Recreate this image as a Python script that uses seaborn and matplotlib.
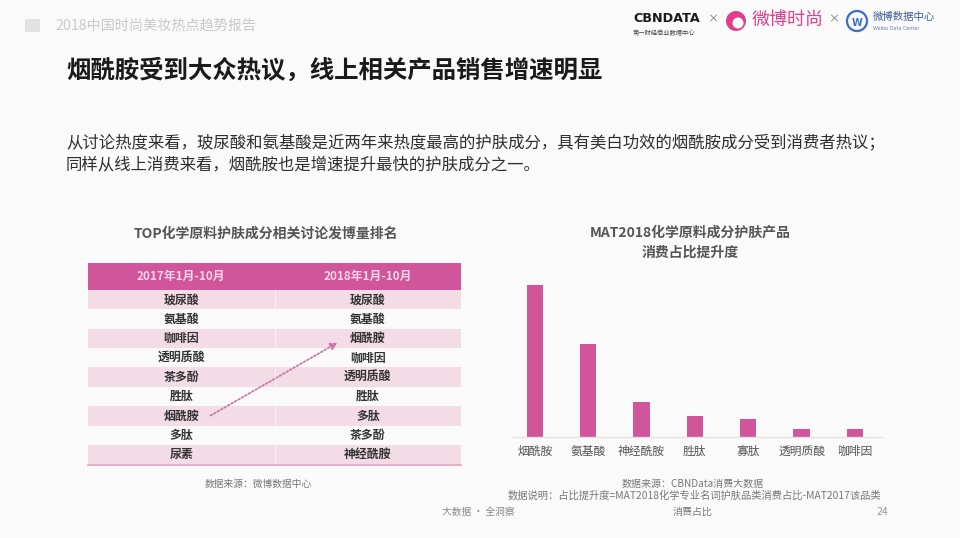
import matplotlib
matplotlib.use("Agg")
import matplotlib.pyplot as plt
from matplotlib.patches import Rectangle, Circle, FancyArrowPatch
import seaborn as sns
import pandas as pd

# ---------------- data ----------------
report_name = "2018中国时尚美妆热点趋势报告"
main_title = "烟酰胺受到大众热议，线上相关产品销售增速明显"
body_lines = [
    "从讨论热度来看，玻尿酸和氨基酸是近两年来热度最高的护肤成分，具有美白功效的烟酰胺成分受到消费者热议；",
    "同样从线上消费来看，烟酰胺也是增速提升最快的护肤成分之一。",
]
table_title = "TOP化学原料护肤成分相关讨论发博量排名"
periods = ["2017年1月-10月", "2018年1月-10月"]
ranking_2017 = ["玻尿酸", "氨基酸", "咖啡因", "透明质酸", "茶多酚", "胜肽", "烟酰胺", "多肽", "尿素"]
ranking_2018 = ["玻尿酸", "氨基酸", "烟酰胺", "咖啡因", "透明质酸", "胜肽", "多肽", "茶多酚", "神经酰胺"]
highlight = "烟酰胺"

bar_title = ["MAT2018化学原料成分护肤产品", "消费占比提升度"]
bar_categories = ["烟酰胺", "氨基酸", "神经酰胺", "胜肽", "寡肽", "透明质酸", "咖啡因"]
bar_values = [15.1, 9.3, 3.5, 2.1, 1.8, 0.8, 0.8]

source_left = "数据来源：微博数据中心"
source_right = "数据来源：CBNData消费大数据"
note_lines = ["数据说明：占比提升度=MAT2018化学专业名词护肤品类消费占比-MAT2017该品类", "消费占比"]
footer_left = "大数据 · 全洞察"
page_no = "24"

# ---------------- style ----------------
sns.set_theme(style="white")
plt.rcParams["font.family"] = ["Noto Sans CJK SC", "DejaVu Sans"]

BG = "#fafafa"
PINK = "#d0559a"
ROW_PINK = "#f3dce6"

fig = plt.figure(figsize=(9.6, 5.38), dpi=100, facecolor=BG)

# overlay axes in pixel coordinates (y downward)
ov = fig.add_axes([0, 0, 1, 1], zorder=0)
ov.set_xlim(0, 960)
ov.set_ylim(538, 0)
ov.axis("off")
ov.set_facecolor(BG)

# header
ov.add_patch(Rectangle((25, 19), 15, 13, color="#e2e2e2", lw=0))
ov.text(55, 25.5, report_name, fontsize=10.2, color="#c9c9c9", va="center", ha="left")

# logos
ov.text(633, 18, "CBNDATA", fontsize=9.2, fontweight="bold", color="#1a1a1a", va="center", ha="left",
        family=["DejaVu Sans"])
ov.text(633, 33, "第一财经商业数据中心", fontsize=4.5, color="#444444", va="center", ha="left")
ov.text(713, 19, "×", fontsize=8, color="#777777", va="center", ha="center")
ov.add_patch(Circle((736, 21), 10, color="#e33d8a", lw=0))
ov.add_patch(Circle((738, 23), 5.5, color="white", lw=0))
ov.text(752, 20, "微博时尚", fontsize=13, color="#e2408a", va="center", ha="left", style="italic")
ov.text(834, 19, "×", fontsize=8, color="#777777", va="center", ha="center")
ov.add_patch(Circle((857, 21), 10, fill=False, ec="#3b6fc4", lw=1.6))
ov.text(857, 23, "W", fontsize=7, fontweight="bold", color="#3b6fc4", va="center", ha="center",
        family=["DejaVu Sans"])
ov.text(873, 17, "微博数据中心", fontsize=7.5, color="#3d5a9c", va="center", ha="left")
ov.text(873, 28, "Weibo Data Center", fontsize=3.5, color="#6a7fb0", va="center", ha="left",
        family=["DejaVu Sans"])

# title and body
ov.text(66, 71, main_title, fontsize=17.6, fontweight="bold", color="#1a1a1a", va="center", ha="left")
for i, line in enumerate(body_lines):
    ov.text(66, 143 + i * 22, line, fontsize=11.8, color="#2e2e2e", va="center", ha="left")

# ---------------- table ----------------
tx0, tx1 = 88, 461
hy0, hy1 = 263, 290
row_h = 19.37
col_centers = [tx0 + (tx1 - tx0) / 4, tx0 + 3 * (tx1 - tx0) / 4]
ov.text((tx0 + tx1) / 2 - 9, 234, table_title, fontsize=10, fontweight="bold", color="#555555",
        va="center", ha="center")
ov.add_patch(Rectangle((tx0, hy0), tx1 - tx0, hy1 - hy0, color=PINK, lw=0))
for c, p in zip(col_centers, periods):
    ov.text(c, (hy0 + hy1) / 2, p, fontsize=8.5, fontweight="bold", color="#f8d6e8",
            va="center", ha="center")
n_rows = len(ranking_2017)
for i in range(n_rows):
    y = hy1 + i * row_h
    if i % 2 == 0:
        ov.add_patch(Rectangle((tx0, y), tx1 - tx0, row_h, color=ROW_PINK, lw=0))
    for c, name in zip(col_centers, (ranking_2017[i], ranking_2018[i])):
        ov.text(c, y + row_h / 2, name, fontsize=8.6, fontweight="bold", color="#333333",
                va="center", ha="center")
ov.plot([(tx0 + tx1) / 2] * 2, [hy1, hy1 + n_rows * row_h], color="white", lw=0.6, alpha=0.7)
ov.plot([tx0, tx1], [hy1 + n_rows * row_h + 0.5] * 2, color="#e3b0c8", lw=1.5)

# dotted arrow from highlight in 2017 to its 2018 position
r0 = ranking_2017.index(highlight)
r1 = ranking_2018.index(highlight)
y0 = hy1 + (r0 + 0.5) * row_h + 1
y1 = hy1 + (r1 + 0.5) * row_h + 3
arr = FancyArrowPatch((col_centers[0] + 27, y0), (col_centers[1] - 28, y1),
                      arrowstyle="-|>,head_length=4,head_width=2.2", color="#c97aa3",
                      lw=1.3, linestyle=(0, (1, 1.2)), mutation_scale=1)
ov.add_patch(arr)

ov.text(258, 484, source_left, fontsize=7, color="#777777", va="center", ha="center")

# ---------------- bar chart ----------------
ov.text(690, 233, bar_title[0], fontsize=10, fontweight="bold", color="#555555", va="center", ha="center")
ov.text(690, 253, bar_title[1], fontsize=10, fontweight="bold", color="#555555", va="center", ha="center")

px_left, px_right, px_base, px_top = 513, 882, 436.7, 280
ax = fig.add_axes([px_left / 960, 1 - px_base / 538, (px_right - px_left) / 960,
                   (px_base - px_top) / 538], zorder=2)
df = pd.DataFrame({"成分": bar_categories, "提升度": bar_values})
sns.barplot(data=df, x="成分", y="提升度", ax=ax, color=PINK, width=0.31,
            saturation=1, edgecolor="none")
ax.set_xlim(-0.41, 6.51)
ax.set_ylim(0, max(bar_values) * (px_base - px_top) / 151.3)
ax.patch.set_alpha(0)
for s in ["top", "right", "left"]:
    ax.spines[s].set_visible(False)
ax.spines["bottom"].set_color("#e2e2e2")
ax.spines["bottom"].set_linewidth(1)
ax.set_yticks([])
ax.set_xlabel("")
ax.set_ylabel("")
ax.tick_params(axis="x", length=0, pad=6, labelsize=8.5, labelcolor="#555555")

# ---------------- footer ----------------
ov.text(693, 484, source_right, fontsize=7.2, color="#777777", va="center", ha="center")
ov.text(694, 496, note_lines[0], fontsize=7.4, color="#777777", va="center", ha="center")
ov.text(693, 512, note_lines[1], fontsize=7.2, color="#777777", va="center", ha="center")
ov.text(442, 512, footer_left, fontsize=7, color="#888888", va="center", ha="left")
ov.text(888, 512, page_no, fontsize=7.5, color="#999999", va="center", ha="right")

fig.savefig("out.png", dpi=100, facecolor=BG)
